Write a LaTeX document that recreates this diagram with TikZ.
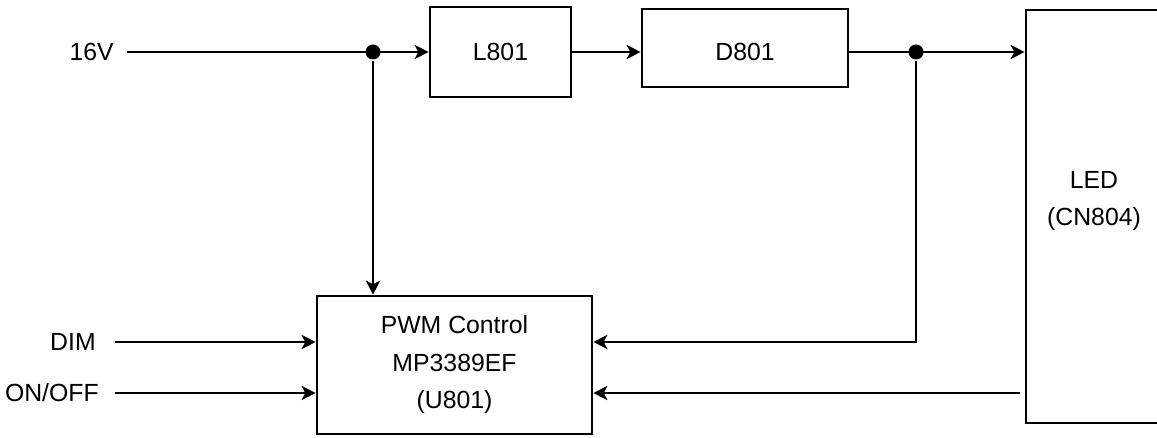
\documentclass[tikz,border=0pt]{standalone}
\usepackage{fontspec}
\setmainfont{Liberation Sans}
\usetikzlibrary{arrows.meta}
\tikzset{>={Stealth[width=7pt,length=7pt,inset=1.8pt]}}
\tikzset{blk/.style={draw, line width=1.3pt, inner sep=0pt, font=\fontsize{12.4}{18.75}\selectfont},
  lbl/.style={inner sep=0pt, font=\fontsize{12.4}{18.75}\selectfont},
  jdot/.style={circle, fill, inner sep=0pt, minimum size=7.5pt}}

\begin{document}
\begin{tikzpicture}[x=0.5pt,y=-0.5pt,line width=1.3pt]
\useasboundingbox (0,0) rectangle (1157,438);

\node[blk, minimum width=70.5pt, minimum height=45pt] (l801) at (500.5,52) {L801};
\node[blk, minimum width=103pt, minimum height=39pt] (d801) at (745,48) {};
\node[lbl] (d801txt) at (745,52) {D801};
\node[blk, minimum width=68.5pt, minimum height=206.5pt] (led) at (1094.5,216.5) {};
\node[lbl, align=center] (ledtxt) at (1094,201) {LED\\(CN804)};
\node[blk, align=center, minimum width=137.5pt, minimum height=69pt] (pwm) at (454.5,365)
  {PWM Control\\MP3389EF\\(U801)};

\node[lbl, anchor=east] (v16) at (115,52) {16V};
\node[lbl, anchor=east] (dim) at (97,342) {DIM};
\node[lbl, anchor=east] (onoff) at (100,393) {ON/OFF};

\node[jdot] (j1) at (373,52) {};
\node[jdot] (j2) at (916,52) {};

\draw[->] ([xshift=6pt]v16.east) -- (l801.west);
\draw[->] (l801.east) -- (l801.east -| d801.west);
\draw[->] (d801.east |- j2) -- (led.west |- j2);
\draw[->] (j1) -- (pwm.north -| j1);
\draw[->] (j2) |- (pwm.east |- dim);
\draw[->] ([xshift=-2.5pt]led.west |- onoff) -- (pwm.east |- onoff);

\draw[->] ([xshift=9pt]dim.east) -- (pwm.west |- dim);
\draw[->] ([xshift=7.5pt]onoff.east) -- (pwm.west |- onoff);
\end{tikzpicture}
\end{document}
